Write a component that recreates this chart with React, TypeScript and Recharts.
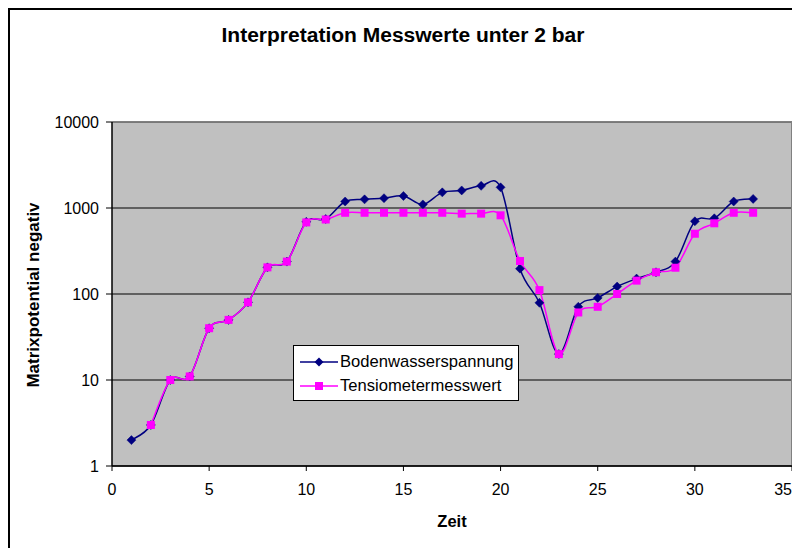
import React from 'react';
import {
  LineChart,
  Line,
  XAxis,
  YAxis,
  CartesianGrid,
  Legend,
  ReferenceLine,
  Label,
} from 'recharts';

const zeit = [1, 2, 3, 4, 5, 6, 7, 8, 9, 10, 11, 12, 13, 14, 15, 16, 17, 18, 19, 20, 21, 22, 23, 24, 25, 26, 27, 28, 29, 30, 31, 32, 33];
const bodenwasserspannung = [2, 3, 10, 11, 40, 50, 80, 204, 238, 690, 745, 1190, 1260, 1300, 1380, 1100, 1520, 1600, 1810, 1740, 197, 79, 20, 71, 90, 122, 151, 179, 238, 700, 759, 1190, 1275];
const tensiometermesswert = [null, 3, 10, 11, 40, 50, 80, 204, 238, 680, 735, 880, 880, 880, 880, 880, 880, 860, 860, 822, 242, 111, 20, 61, 71, 100, 143, 179, 202, 502, 664, 880, 880];
const xTicks = [0, 5, 10, 15, 20, 25, 30, 35];
const yTicks = [1, 10, 100, 1000, 10000];

const SERIES_A = 'Bodenwasserspannung';
const SERIES_B = 'Tensiometermesswert';
const TITLE = 'Interpretation Messwerte unter 2 bar';
const X_TITLE = 'Zeit';
const Y_TITLE = 'Matrixpotential negativ';

const data = zeit.map((t, i) => ({
  t,
  a: bodenwasserspannung[i],
  b: tensiometermesswert[i],
}));

const FONT = '"Liberation Sans", Arial, sans-serif';
const BLUE = '#000080';
const MAGENTA = '#FF00FF';

// Excel-like smoothed line (Catmull-Rom style Bezier)
function excelCurve(context: any) {
  let pts: [number, number][] = [];
  return {
    areaStart() {},
    areaEnd() {},
    lineStart() {
      pts = [];
    },
    point(x: number, y: number) {
      pts.push([+x, +y]);
    },
    lineEnd() {
      const n = pts.length;
      if (n === 0) return;
      context.moveTo(pts[0][0], pts[0][1]);
      for (let i = 0; i < n - 1; i++) {
        const p0 = pts[Math.max(0, i - 1)];
        const p1 = pts[i];
        const p2 = pts[i + 1];
        const p3 = pts[Math.min(n - 1, i + 2)];
        context.bezierCurveTo(
          p1[0] + (p2[0] - p0[0]) / 6,
          p1[1] + (p2[1] - p0[1]) / 6,
          p2[0] - (p3[0] - p1[0]) / 6,
          p2[1] - (p3[1] - p1[1]) / 6,
          p2[0],
          p2[1]
        );
      }
    },
  };
}

const Diamond = (props: any) => {
  const { cx, cy, index } = props;
  if (cx == null || cy == null || isNaN(cy)) return <g key={`d-${index}`} />;
  const r = 4.5;
  return (
    <path
      key={`d-${index}`}
      d={`M${cx},${cy - r}L${cx + r},${cy}L${cx},${cy + r}L${cx - r},${cy}Z`}
      fill={BLUE}
      stroke={BLUE}
      strokeWidth={0.5}
    />
  );
};

const Square = (props: any) => {
  const { cx, cy, index } = props;
  if (cx == null || cy == null || isNaN(cy)) return <g key={`s-${index}`} />;
  const h = 4;
  return <rect key={`s-${index}`} x={cx - h} y={cy - h} width={2 * h} height={2 * h} fill={MAGENTA} />;
};

const XTick = (props: any) => {
  const { x, y, payload } = props;
  const last = payload.value === 35;
  return (
    <text
      x={last ? x : x}
      y={y}
      dy="0.71em"
      textAnchor={last ? 'end' : 'middle'}
      fontFamily={FONT}
      fontSize={16}
      fill="#000"
    >
      {payload.value}
    </text>
  );
};

const LegendBox = (props: any) => {
  const payload = props.payload || [];
  return (
    <div
      style={{
        width: 226,
        height: 56,
        background: '#fff',
        border: '1px solid #000',
        boxSizing: 'border-box',
        fontFamily: FONT,
        fontSize: 16.6,
        color: '#000',
        paddingTop: 4,
      }}
    >
      {payload.map((p: any, i: number) => (
        <div key={i} style={{ display: 'flex', alignItems: 'center', height: 24 }}>
          <svg width={46} height={12} style={{ marginLeft: 6 }}>
            <line x1={0} y1={6} x2={38} y2={6} stroke={p.color} strokeWidth={1.5} />
            {i === 0 ? (
              <path d="M19,1.5L23.5,6L19,10.5L14.5,6Z" fill={BLUE} />
            ) : (
              <rect x={15} y={2} width={8} height={8} fill={MAGENTA} />
            )}
          </svg>
          <span style={{ marginLeft: -6 }}>{p.value}</span>
        </div>
      ))}
    </div>
  );
};

export default function App() {
  return (
    <div
      style={{
        position: 'relative',
        width: 800,
        height: 548,
        marginLeft: -8,
        marginTop: -8,
        overflow: 'hidden',
        background: '#fff',
      }}
    >
      <div
        style={{
          position: 'absolute',
          left: 0,
          top: 24,
          width: 806,
          textAlign: 'center',
          fontFamily: FONT,
          fontWeight: 'bold',
          fontSize: 20,
          color: '#000',
          transform: 'scaleX(1.05)',
        }}
      >
        {TITLE}
      </div>
      <div style={{ position: 'absolute', left: 0, top: 0 }}>
        <LineChart
          width={800}
          height={548}
          data={data}
          margin={{ top: 122, right: 8, bottom: 52, left: 52 }}
        >
          <CartesianGrid
            vertical={false}
            horizontal={true}
            fill="#C0C0C0"
            stroke="#000"
            strokeWidth={1}
            horizontalValues={yTicks}
          />
          <XAxis
            type="number"
            dataKey="t"
            domain={[0, 35]}
            ticks={xTicks}
            interval={0}
            axisLine={{ stroke: '#000', strokeWidth: 1.5 }}
            tickLine={{ stroke: '#000' }}
            tickSize={5}
            tickMargin={13}
            height={30}
            tick={<XTick />}
          >
            <Label
              content={() => (
                <text
                  x={452}
                  y={527}
                  textAnchor="middle"
                  fontFamily={FONT}
                  fontWeight="bold"
                  fontSize={16.5}
                  fill="#000"
                >
                  {X_TITLE}
                </text>
              )}
            />
          </XAxis>
          <YAxis
            scale="log"
            domain={[1, 10000]}
            ticks={yTicks}
            interval={0}
            allowDataOverflow
            width={60}
            axisLine={{ stroke: '#000', strokeWidth: 1.5 }}
            tickLine={{ stroke: '#000' }}
            tickSize={6}
            tickMargin={7}
            tick={{ fontFamily: FONT, fontSize: 16, fill: '#000' }}
          >
            <Label
              content={() => (
                <text
                  x={39}
                  y={295}
                  transform="rotate(-90 39 295)"
                  textAnchor="middle"
                  fontFamily={FONT}
                  fontWeight="bold"
                  fontSize={17}
                  fill="#000"
                >
                  {Y_TITLE}
                </text>
              )}
            />
          </YAxis>
          <ReferenceLine y={10000} stroke="#808080" strokeWidth={1.5} />
          <ReferenceLine x={35} stroke="#808080" strokeWidth={2} />
          <Legend
            layout="vertical"
            align="center"
            verticalAlign="middle"
            content={<LegendBox />}
            wrapperStyle={{ left: 293, top: 345, width: 226, height: 56 }}
          />
          <Line
            name={SERIES_A}
            dataKey="a"
            type={excelCurve as any}
            stroke={BLUE}
            strokeWidth={1.5}
            dot={Diamond}
            activeDot={false}
            isAnimationActive={false}
          />
          <Line
            name={SERIES_B}
            dataKey="b"
            type={excelCurve as any}
            stroke={MAGENTA}
            strokeWidth={1.5}
            dot={Square}
            activeDot={false}
            isAnimationActive={false}
          />
        </LineChart>
      </div>
      <div
        style={{
          position: 'absolute',
          left: 8,
          top: 8,
          width: 900,
          height: 700,
          borderLeft: '2px solid #000',
          borderTop: '2px solid #000',
          pointerEvents: 'none',
        }}
      />
    </div>
  );
}
